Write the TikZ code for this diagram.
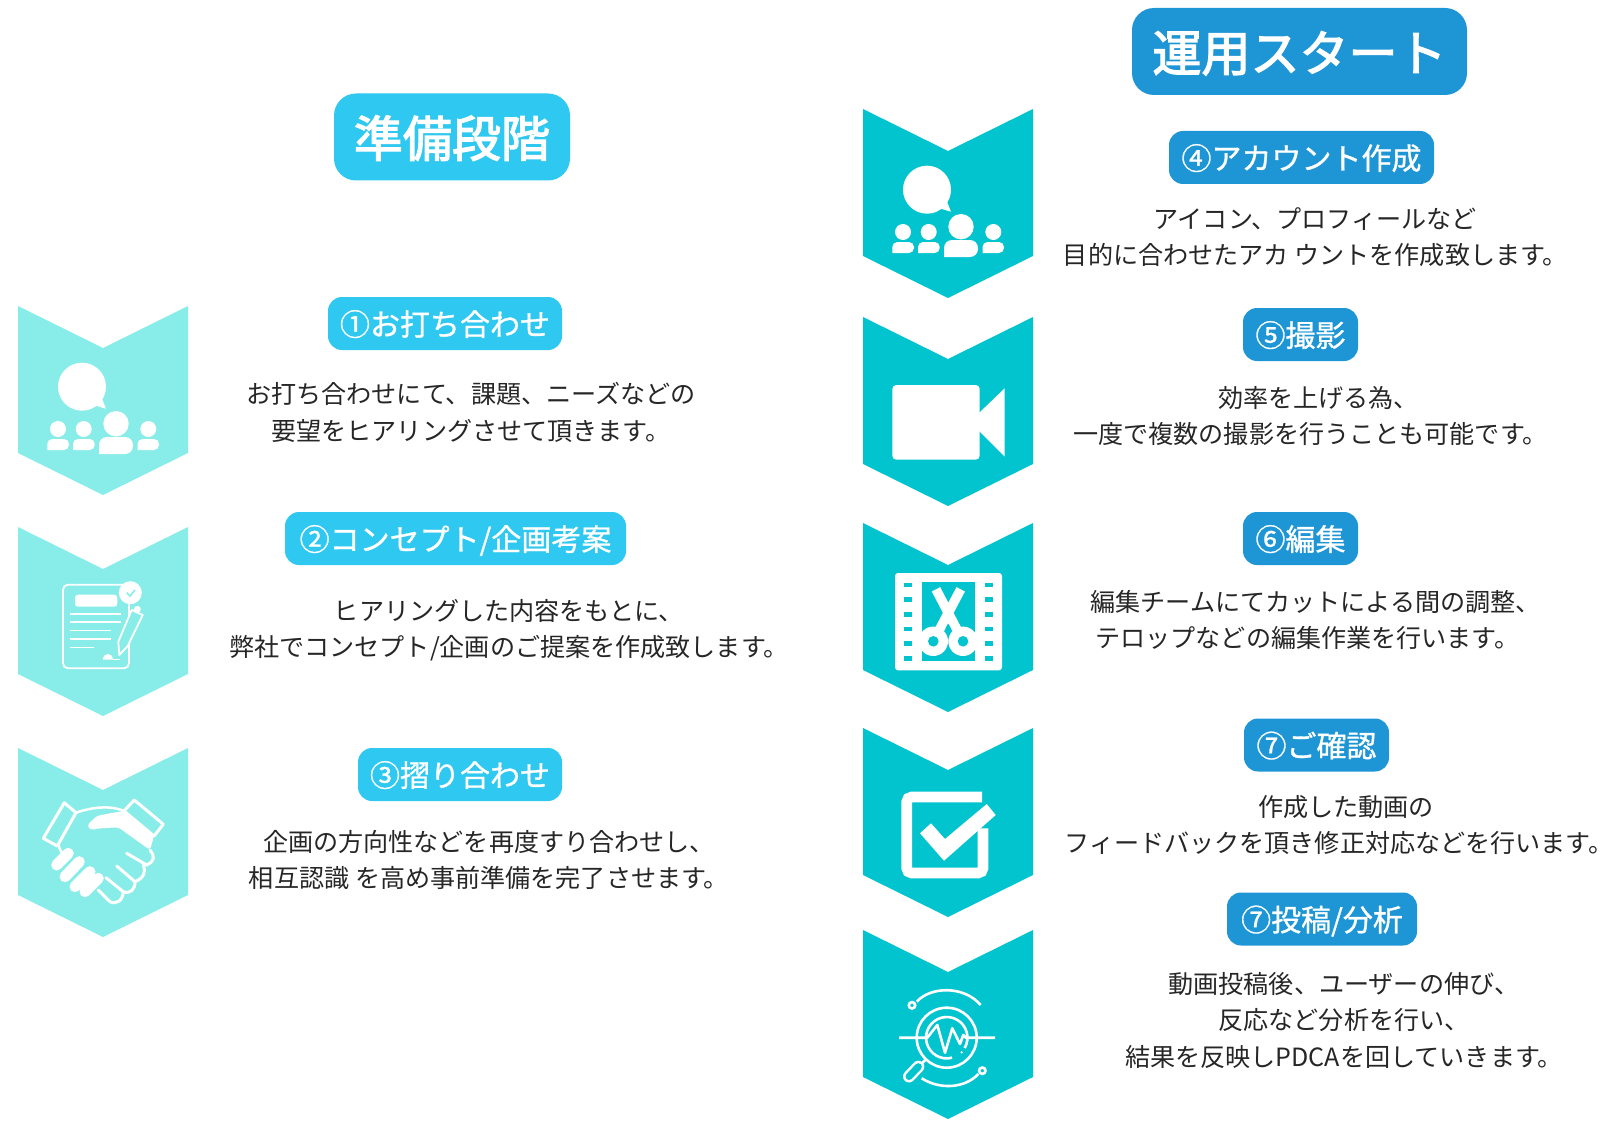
\documentclass[tikz,border=0pt]{standalone}
\usepackage{fontspec}
\setmainfont{Noto Sans CJK JP}
\newfontfamily\badgefont{Noto Sans CJK JP}[FakeBold=1]
\newfontfamily\titlefont{Noto Sans CJK JP}[FakeBold=2.6]
\usetikzlibrary{positioning}
\definecolor{prepblue}{HTML}{2FC8F0}
\definecolor{runblue}{HTML}{1E96D6}
\definecolor{prepteal}{HTML}{88EDE9}
\definecolor{runteal}{HTML}{02C4CF}
\tikzset{
 pics/chevron/.style={code={\fill[#1] (-85,0)--(0,42)--(85,0)--(85,147)--(0,189)--(-85,147)--cycle;}},
 pics/people/.style={code={
  \fill[white] (-21,80.7) circle[radius=24] (-1.3,92)--(3,102.7)--(-6.3,100)--cycle;
  \fill[white] (-45,123) circle[radius=8] (-19.3,123) circle[radius=8] (45.3,123) circle[radius=8] (13,117.7) circle[radius=12.7];
  \fill[white,rounded corners=5pt] (-55.7,144)--(-55.7,133)--(-34,133)--(-34,144)[sharp corners]--cycle;
  \fill[white,rounded corners=5pt] (-30,144)--(-30,133)--(-8.3,133)--(-8.3,144)[sharp corners]--cycle;
  \fill[white,rounded corners=5pt] (34.5,144)--(34.5,133)--(56,133)--(56,144)[sharp corners]--cycle;
  \fill[white,rounded corners=8pt] (-4,148)--(-4,131)--(30,131)--(30,148)[sharp corners]--cycle;}},
 pics/contract/.style={code={
  \draw[white,line width=1.8pt,rounded corners=5pt] (-40,57.7) rectangle (26,141.3);
  \fill[white,rounded corners=3pt] (-28,67.7) rectangle (14.3,79.7);
  \draw[white,line width=1.6pt] (-32.7,86.7)--(18,86.7) (-32.7,95)--(18,95) (-32.7,103.3)--(8,103.3) (-32.7,111.7)--(8,111.7) (-32.7,120.3)--(-8.7,120.3);
  \fill[white] (27.3,65.7) circle[radius=11.5];
  \draw[prepteal,line width=1.6pt] (23.7,65.7)--(27,69)--(32,63);
  \draw[white,fill=prepteal,line width=1.8pt,line join=round] (28.7,83)--(39.7,88)--(24.7,119)--(16.3,128)--(15.3,114.7)--cycle;
  \fill[white] (34.3,82.3) circle[radius=3.5];
  \fill[white] (-0.3,132.5) .. controls (1,125) and (9,125) .. (10,132.5)--cycle;
  \draw[white,line width=1.6pt] (10,132.3)--(17,132.3);}},
 pics/handshake/.style={code={
  \draw[white,line width=3pt,line join=round] (-38.7,54.7)--(-27,64.7)--(-45.7,98)--(-59.7,90.3)--cycle;
  \draw[white,line width=3pt,line join=round] (31.3,52)--(60.3,76.3)--(51,88)--(21,63)--cycle;
  \fill[white,rounded corners=3pt] (-15.7,77)--(-6.3,68)--(7,65.3)--(21,63)--(51,88)--(47,102)--(15.3,79.3)--(-3,80.3)--(-13,82)--cycle;
  \draw[white,line width=2.5pt] (-27,64.7) .. controls (-8,58) and (10,58) .. (21,63);
  \draw[white,line width=11pt,line cap=round] (-46.3,117)--(-34.7,105.3) (-38,128.7)--(-23.7,113.7) (-28,138.7)--(-13,123.7) (-18,143.7)--(-4.7,130.3);
  \draw[white,line width=2.5pt] (-44.7,97)--(-41.3,105.3);
  \draw[white,line width=3pt,line cap=round,line join=round] (47,102) .. controls (52,108.7) and (52,113) .. (43.7,117)--(23.7,105.3);
  \draw[white,line width=3pt,line cap=round,line join=round] (40.3,117) .. controls (43,124) and (41,130) .. (32,133.7)--(13.7,118);
  \draw[white,line width=3pt,line cap=round,line join=round] (32,133.7) .. controls (32,142) and (27,146) .. (20.3,143.7)--(3,129.7);
  \draw[white,line width=3pt,line cap=round,line join=round] (20.3,143.7) .. controls (20,152) and (14,157) .. (7,153.7)--(-4.7,142);}},
 pics/movie/.style={code={
  \fill[white,rounded corners=4pt] (-55.7,68) rectangle (31.7,142.7);
  \fill[white] (31,96)--(56.7,71.3)--(56.7,139.7)--(31,114)--cycle;}},
 pics/filmcut/.style={code={
  \fill[white,rounded corners=3pt] (-53,50) rectangle (54,147.3);
  \fill[runteal] (-26,59.3) rectangle (27,138);
  \foreach \holey in {59.7,74.3,89,103.7,118.3,133} {
   \fill[runteal] (-43.7,\holey) rectangle +(7.4,4.6);
   \fill[runteal] (37.3,\holey) rectangle +(7.4,4.6);}
  \draw[white,line width=9.5pt] (-12,66.3)--(15,118.3) (12.7,66.3)--(-14.7,118.3);
  \fill[white] (-14.7,118.3) circle[radius=14.7] (15,118.3) circle[radius=14.7];
  \fill[runteal] (-14.7,118.3) circle[radius=5.3] (15,118.3) circle[radius=5.3] (0.1,101)--(2.6,105)--(0.1,109)--(-2.4,105)--cycle;}},
 pics/checkbox/.style={code={
  \draw[white,line width=10.7pt,rounded corners=5pt] (35,100.3)--(35,145)--(-41.3,145)--(-41.3,69)--(34,69);
  \fill[white] (-28,105.3)--(-17,95.3)--(-3,111)--(38.7,76)--(47.7,87)--(-4,132.7)--cycle;}},
 pics/analysis/.style={code={
  \draw[white,line width=2.6pt] (-1.3,107.7) circle[radius=30];
  \draw[white,line width=2.6pt] (-1.3,127.7) ++(5.4,0) arc[start angle=75,end angle=390,radius=20.7];
  \draw[white,line width=2.6pt,line join=round] (-49,107.7)--(-20.7,107.7)--(-10.7,95)--(-3,122.7)--(4.3,98.3)--(12,114)--(15.3,105)--(18,107.7)--(47,107.7);
  \fill[white] (13.7,122.3) circle[radius=1.3];
  \draw[white,line width=2.6pt] (-22,129.3)--(-29.7,136.7);
  \draw[white,line width=12pt,line cap=round] (-29.7,136.7)--(-39,146.5);
  \draw[runteal,line width=7pt,line cap=round] (-29.7,136.7)--(-39,146.5);
  \draw[white,line width=2.6pt] (-36,75.3) circle[radius=3.2] (-31.3,71.7) .. controls (-18,56.7) and (15.3,55) .. (32.7,75);
  \draw[white,line width=2.6pt] (34.3,140.7) circle[radius=3.2] (-26.3,148.3) .. controls (-8,160) and (17,158.3) .. (30.3,144);}}
}
\begin{document}
\begin{tikzpicture}[x=1pt,y=-1pt,node distance=25pt,
 badge/.style={rounded corners=14pt,text=white,inner sep=0pt,minimum height=53pt,text height=27pt,text depth=3pt,font=\fontsize{30}{30}\badgefont},
 prepbadge/.style={badge,fill=prepblue}, runbadge/.style={badge,fill=runblue},
 titlebadge/.style={rounded corners=22pt,text=white,inner sep=0pt,minimum height=87pt,text height=44.5pt,text depth=5pt,font=\fontsize{49}{49}\titlefont},
 bodytext/.style={align=center,inner sep=0pt,text=black!85,font=\fontsize{25.1}{36.5}\selectfont}]
\useasboundingbox (0,0) rectangle (1614,1126);
\pic at (103,306) {chevron=prepteal}; \pic at (103,306) {people};
\pic at (103,527) {chevron=prepteal}; \pic at (103,527) {contract};
\pic at (103,748) {chevron=prepteal}; \pic at (103,748) {handshake};
\pic at (948,109) {chevron=runteal}; \pic at (948,109) {people};
\pic at (948,317) {chevron=runteal}; \pic at (948,317) {movie};
\pic at (948,523) {chevron=runteal}; \pic at (948,523) {filmcut};
\pic at (948,728) {chevron=runteal}; \pic at (948,728) {checkbox};
\pic at (948,930) {chevron=runteal}; \pic at (948,930) {analysis};
\node[titlebadge,fill=prepblue,minimum width=236pt] (prep) at (452,137) {準備段階};
\node[titlebadge,fill=runblue,minimum width=335pt] (run) at (1299.5,51.5) {運用スタート};
\node[prepbadge,minimum width=234pt] (b1) at (445,323.5) {①お打ち合わせ};
\node[bodytext,below=31.9pt of b1,xshift=26pt] (txt1) {お打ち合わせにて、課題、ニーズなどの\\要望をヒアリングさせて頂きます。};
\node[prepbadge,minimum width=341pt] (b2) at (455.5,538.5) {②コンセプト/企画考案};
\node[bodytext,below=33.9pt of b2,xshift=53.5pt] (txt2) {ヒアリングした内容をもとに、\\弊社でコンセプト/企画のご提案を作成致します。};
\node[prepbadge,minimum width=204pt] (b3) at (460,774.5) {③摺り合わせ};
\node[bodytext,below=28.9pt of b3,xshift=29pt] (txt3) {企画の方向性などを再度すり合わせし、\\相互認識 を高め事前準備を完了させます。};
\node[runbadge,minimum width=265pt] (b4) at (1301.5,157.5) {④アカウント作成};
\node[bodytext,below=22.9pt of b4,xshift=14pt] (txt4) {アイコン、プロフィールなど\\目的に合わせたアカ ウントを作成致します。};
\node[runbadge,minimum width=115pt] (b5) at (1300.5,334.5) {⑤撮影};
\node[bodytext,below=24.9pt of b5,xshift=10pt] (txt5) {\hspace*{16pt}効率を上げる為、\\一度で複数の撮影を行うことも可能です。};
\node[runbadge,minimum width=115pt] (b6) at (1300.5,538.5) {⑥編集};
\node[bodytext,below=24.9pt of b6,xshift=15pt] (txt6) {編集チームにてカットによる間の調整、\\テロップなどの編集作業を行います。\hspace*{16pt}};
\node[runbadge,minimum width=145pt] (b7) at (1316.5,745) {⑦ご確認};
\node[bodytext,below=23.4pt of b7,xshift=22.5pt] (txt7) {\hspace*{14pt}作成した動画の\\フィードバックを頂き修正対応などを行います。};
\node[runbadge,minimum width=190pt] (b8) at (1322,919) {⑦投稿/分析};
\node[bodytext,below=26.5pt of b8,xshift=22pt] (txt8) {動画投稿後、ユーザーの伸び、\\反応など分析を行い、\\結果を反映しPDCAを回していきます。};
\end{tikzpicture}
\end{document}
